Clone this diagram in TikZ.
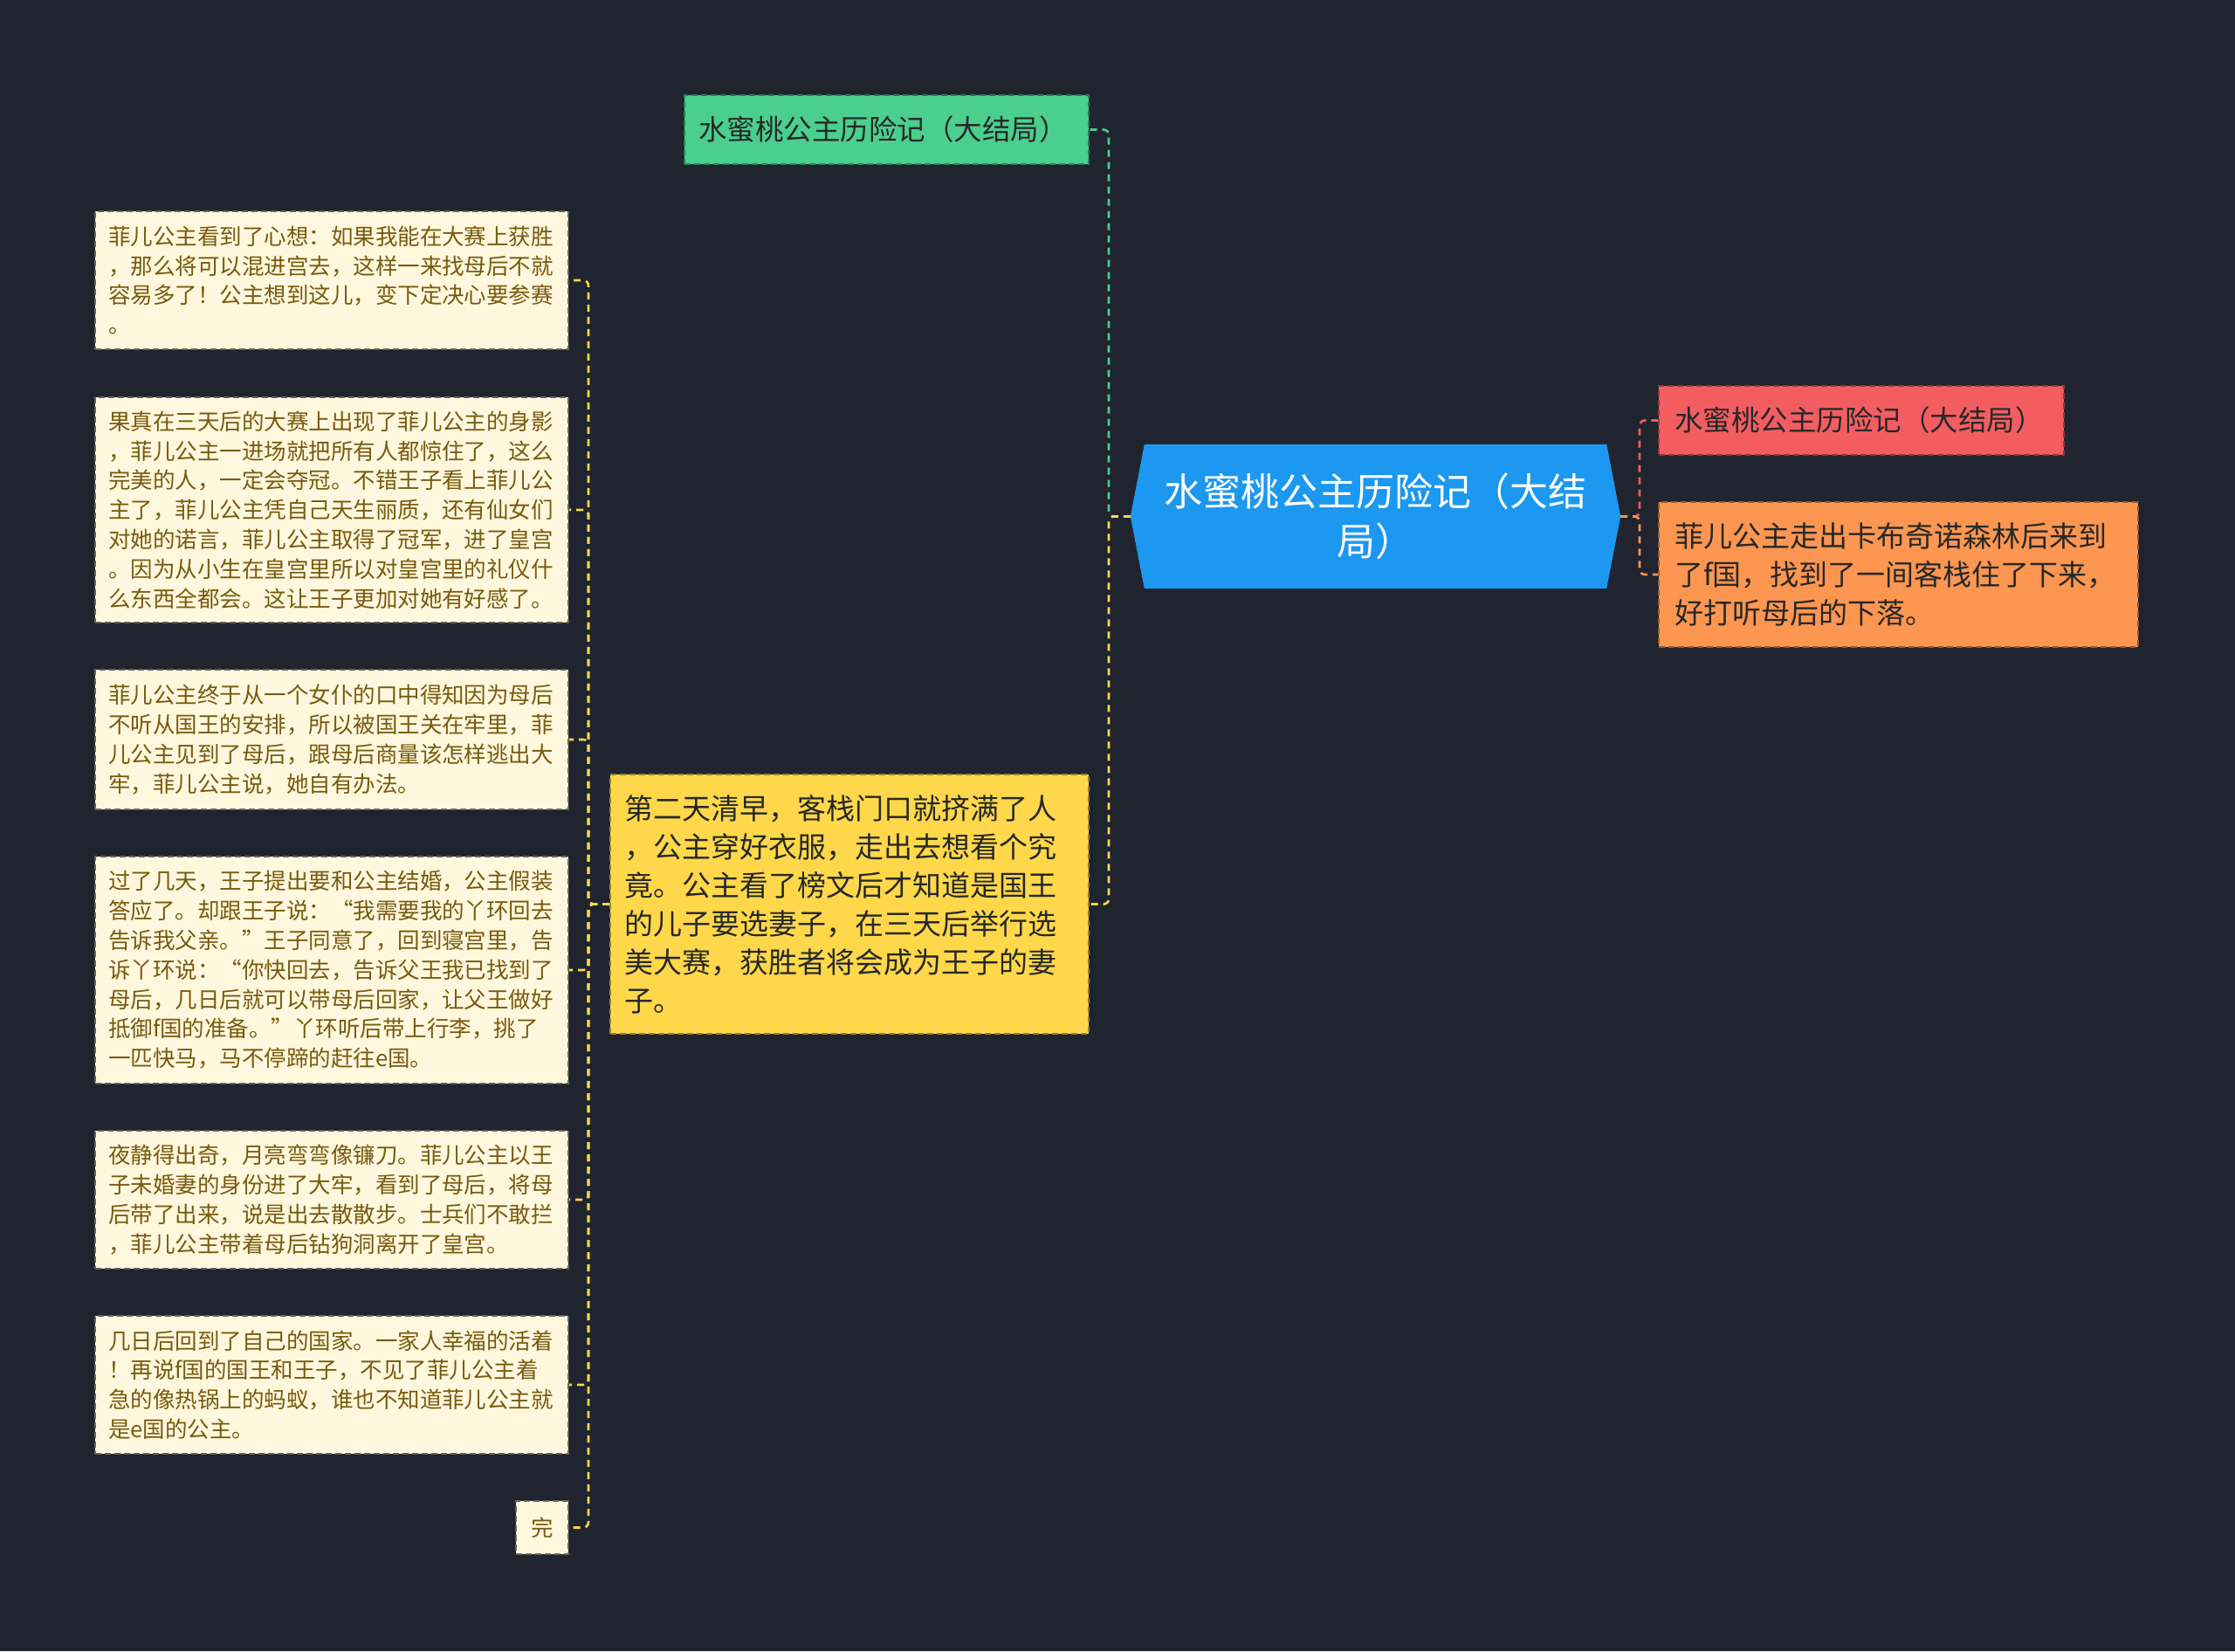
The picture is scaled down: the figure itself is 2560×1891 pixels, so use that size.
\documentclass[tikz,border=0pt]{standalone}
\usepackage{fontspec}
\setmainfont{Noto Sans CJK SC}
\usetikzlibrary{backgrounds}
\definecolor{bgc}{RGB}{32,36,47}
\definecolor{bluec}{RGB}{28,152,240}
\definecolor{greenc}{RGB}{74,207,142}
\definecolor{redc}{RGB}{243,93,97}
\definecolor{orangec}{RGB}{253,150,81}
\definecolor{yellowc}{RGB}{254,216,74}
\definecolor{creamc}{RGB}{255,248,222}
\definecolor{creamt}{RGB}{120,90,15}
\definecolor{darkt}{RGB}{38,40,40}
\tikzset{
  box/.style={rectangle, inner ysep=0pt, align=left, line width=2pt, dash pattern=on 7pt off 4pt},
  creambox/.style={box, fill=creamc, draw=creamc!40!black, text=creamt,
    font=\fontsize{25.5pt}{33.8pt}\selectfont, text width=512pt, inner xsep=15pt},
  bigbox/.style={box, text=darkt, font=\fontsize{33pt}{44pt}\selectfont},
  conn/.style={line width=2.6pt, dash pattern=on 8pt off 6pt, rounded corners=6pt},
}
\begin{document}
\begin{tikzpicture}[x=1pt,y=-1pt]
\begin{pgfonlayer}{background}
\fill[bgc] (0,0) rectangle (2560,1891);
\end{pgfonlayer}
\useasboundingbox (0,0) rectangle (2560,1891);

% root
\node[rectangle, minimum width=561pt, minimum height=165pt, inner sep=0pt, align=center,
  text=white, font=\fontsize{44pt}{57pt}\selectfont] (root) at (1575.5,591.5)
  {水蜜桃公主历险记（大结\\局）};
\begin{pgfonlayer}{background}
\fill[bluec] (root.west) -- ([xshift=16pt]root.north west) -- ([xshift=-16pt]root.north east)
  -- (root.east) -- ([xshift=-16pt]root.south east) -- ([xshift=16pt]root.south west) -- cycle;
\end{pgfonlayer}

% right side
\node[bigbox, fill=greenc, draw=greenc!60!black, text width=431pt, inner xsep=16pt,
  minimum height=79pt, font=\fontsize{32.5pt}{44pt}\selectfont] (green) at (1015.5,148.5)
  {水蜜桃公主历险记（大结局）};
\node[bigbox, fill=redc, draw=redc!60!black, text width=428pt, inner xsep=18pt,
  minimum height=79pt, font=\fontsize{32.5pt}{44pt}\selectfont] (red) at (2132,481.5)
  {水蜜桃公主历险记（大结局）};
\node[bigbox, fill=orangec, draw=orangec!60!black, text width=513pt, inner xsep=18pt,
  minimum height=166pt] (orange) at (2174.5,658)
  {菲儿公主走出卡布奇诺森林后来到\\了f国，找到了一间客栈住了下来，\\好打听母后的下落。};
\node[bigbox, fill=yellowc, draw=yellowc!60!black, text width=516pt, inner xsep=16pt,
  minimum height=297pt] (yellow) at (973,1035.5)
  {第二天清早，客栈门口就挤满了人\\，公主穿好衣服，走出去想看个究\\竟。公主看了榜文后才知道是国王\\的儿子要选妻子，在三天后举行选\\美大赛，获胜者将会成为王子的妻\\子。};

% left column
\node[creambox, minimum height=158pt] (c1) at (380,321)
  {菲儿公主看到了心想：如果我能在大赛上获胜\\，那么将可以混进宫去，这样一来找母后不就\\容易多了！公主想到这儿，变下定决心要参赛\\。};
\node[creambox, minimum height=258pt] (c2) at (380,584)
  {果真在三天后的大赛上出现了菲儿公主的身影\\，菲儿公主一进场就把所有人都惊住了，这么\\完美的人，一定会夺冠。不错王子看上菲儿公\\主了，菲儿公主凭自己天生丽质，还有仙女们\\对她的诺言，菲儿公主取得了冠军，进了皇宫\\。因为从小生在皇宫里所以对皇宫里的礼仪什\\么东西全都会。这让王子更加对她有好感了。};
\node[creambox, minimum height=160pt] (c3) at (380,847)
  {菲儿公主终于从一个女仆的口中得知因为母后\\不听从国王的安排，所以被国王关在牢里，菲\\儿公主见到了母后，跟母后商量该怎样逃出大\\牢，菲儿公主说，她自有办法。};
\node[creambox, minimum height=260pt] (c4) at (380,1111)
  {过了几天，王子提出要和公主结婚，公主假装\\答应了。却跟王子说：“我需要我的丫环回去\\告诉我父亲。”王子同意了，回到寝宫里，告\\诉丫环说：“你快回去，告诉父王我已找到了\\母后，几日后就可以带母后回家，让父王做好\\抵御f国的准备。”丫环听后带上行李，挑了\\一匹快马，马不停蹄的赶往e国。};
\node[creambox, minimum height=158pt] (c5) at (380,1374)
  {夜静得出奇，月亮弯弯像镰刀。菲儿公主以王\\子未婚妻的身份进了大牢，看到了母后，将母\\后带了出来，说是出去散散步。士兵们不敢拦\\，菲儿公主带着母后钻狗洞离开了皇宫。};
\node[creambox, minimum height=158pt] (c6) at (380,1586)
  {几日后回到了自己的国家。一家人幸福的活着\\！再说f国的国王和王子，不见了菲儿公主着\\急的像热锅上的蚂蚁，谁也不知道菲儿公主就\\是e国的公主。};
\node[box, fill=creamc, draw=creamc!40!black, text=creamt, align=center, inner sep=0pt,
  minimum width=60pt, minimum height=61pt, font=\fontsize{25.5pt}{33.8pt}\selectfont] (c7) at (621,1749.5) {完};

% connectors
\coordinate (lsp) at (1270,591.5);
\coordinate (rsp) at (1878,591.5);
\coordinate (ysp) at (674,1035.5);
\draw[conn, greenc] (root.west) -- (lsp) |- (green.east);
\draw[conn, yellowc] (root.west) -- (lsp) |- (yellow.east);
\draw[conn, redc] (root.east) -- (rsp) |- (red.west);
\draw[conn, orangec] (root.east) -- (rsp) |- (orange.west);
\foreach \n in {c1,c2,c3,c4,c5,c6,c7}
  \draw[conn, yellowc] (yellow.west) -- (ysp) |- (\n.east);
\end{tikzpicture}
\end{document}
